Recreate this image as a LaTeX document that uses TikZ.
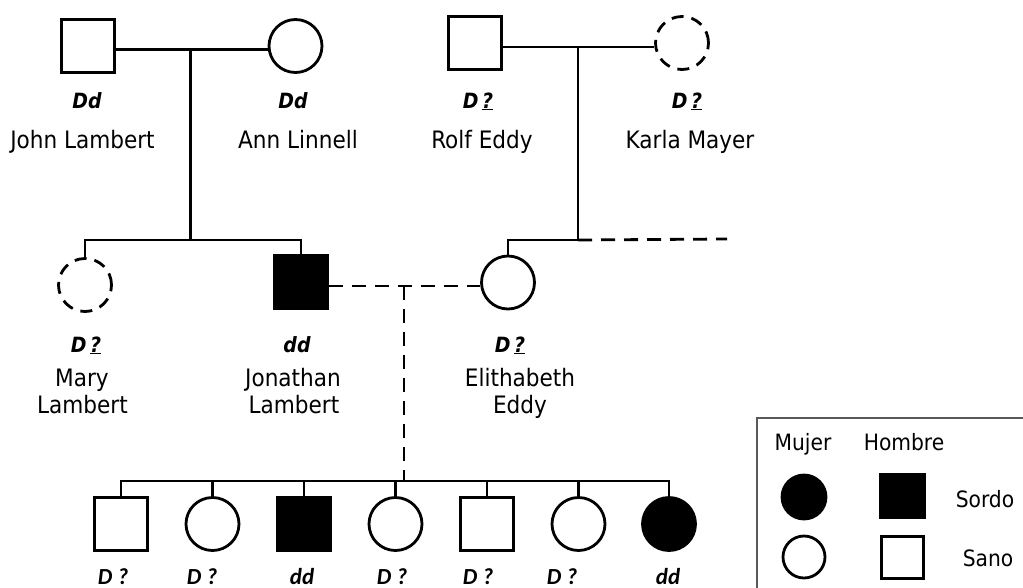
\documentclass[tikz,border=0pt]{standalone}
\usepackage{fontspec}
\IfFontExistsTF{DejaVu Sans Condensed}
  {\setmainfont{DejaVu Sans Condensed}}
  {\setmainfont[FakeStretch=0.9]{DejaVu Sans}}
\newfontfamily\calib{Carlito}
\begin{document}
\begin{tikzpicture}[x=1pt,y=-1pt,line width=2.8pt,
  male/.style={draw,rectangle,minimum size=53pt,inner sep=0pt},
  female/.style={draw,circle,minimum size=53pt,inner sep=0pt},
  aff/.style={fill=black},
  unk/.style={dash pattern=on 12pt off 8pt},
  dashrel/.style={dash pattern=on 14pt off 9pt},
  pname/.style={font=\fontsize{24}{27}\selectfont,anchor=base,inner sep=0pt},
  geno/.style={font=\fontsize{21}{24}\selectfont\bfseries\itshape,anchor=base,inner sep=0pt},
  genob/.style={font=\calib\fontsize{23}{26}\selectfont\bfseries\itshape,anchor=base,inner sep=0pt},
  legtext/.style={font=\fontsize{22.5}{26}\selectfont,anchor=base,inner sep=0pt},
  legbox/.style={draw=black!65,line width=1.3pt}]
\useasboundingbox (0,0) rectangle (1023,587);
% generation I
\node[male] (john) at (88,46) {};
\node[female] (ann) at (295.5,46) {};
\node[male] (rolf) at (475,43) {};
\node[female,unk] (karla) at (682,43) {};
% generation II
\node[female,unk] (mary) at (85,285) {};
\node[male,aff] (jon) at (301,282) {};
\node[female] (eli) at (508,282.5) {};
% generation III
\node[male] (c1) at (121,524) {};
\node[female] (c2) at (212.5,524) {};
\node[male,aff] (c3) at (304,524) {};
\node[female] (c4) at (395.5,524) {};
\node[male] (c5) at (487,524) {};
\node[female] (c6) at (578.5,524) {};
\node[female,aff] (c7) at (669,524) {};
% junction points
\coordinate (m1) at (190.7,49.5);
\coordinate (s1) at (190.7,240);
\coordinate (m2) at (578,47);
\coordinate (s2) at (578,240);
\coordinate (sx) at (727,239);
\coordinate (m3) at (404,286);
\coordinate (s3) at (404,481);
% couples
\draw (john.east |- m1) -- (ann.west |- m1);
\draw (m1) -- (s1);
\draw (rolf.east |- m2) -- (karla.west |- m2);
\draw (m2) -- (s2);
\draw[dashrel] (jon.east |- m3) -- (eli.west |- m3);
\draw[dashrel] (m3) -- (s3);
% sibship lines
\draw (mary.north) -- (mary.north |- s1) -- (jon.north |- s1) -- (jon.north);
\draw (eli.north) -- (eli.north |- s2) -- (s2);
\draw[dashrel] (s2) -- (sx);
\draw (c1.north) -- (c1.north |- s3) -- (c7.north |- s3) -- (c7.north);
\foreach \c in {c2,c3,c4,c5,c6} \draw (\c.north) -- (\c.north |- s3);
% labels generation I
\node[geno] (gjohn) at (87,108) {Dd};
\node[pname] (njohn) at (82.5,148) {John Lambert};
\node[geno] (gann) at (293,108) {Dd};
\node[pname] (nann) at (298,148) {Ann Linnell};
\node[geno] (grolf) at (478,108) {D\,\underline{?}};
\node[pname] (nrolf) at (482,148) {Rolf Eddy};
\node[geno] (gkarla) at (687,108) {D\,\underline{?}};
\node[pname] (nkarla) at (690,148) {Karla Mayer};
% labels generation II
\node[geno] (gmary) at (86,352) {D\,\underline{?}};
\node[pname] (nmary1) at (82,386) {Mary};
\node[pname] (nmary2) at (82.5,413) {Lambert};
\node[geno] (gjon) at (297,352) {dd};
\node[pname] (njon1) at (293,386) {Jonathan};
\node[pname] (njon2) at (294,413) {Lambert};
\node[geno] (geli) at (510,352) {D\,\underline{?}};
\node[pname] (neli1) at (520,386) {Elithabeth};
\node[pname] (neli2) at (520,413) {Eddy};
% labels generation III
\node[genob] (g1) at (113,584) {D ?};
\node[genob] (g2) at (202,584) {D ?};
\node[genob] (g3) at (302,584) {dd};
\node[genob] (g4) at (392,584) {D ?};
\node[genob] (g5) at (478,584) {D ?};
\node[genob] (g6) at (562,584) {D ?};
\node[genob] (g7) at (668,584) {dd};
% legend
\draw[legbox] (757,418) rectangle (1040,600);
\node[legtext] (lmujer) at (803,450) {Mujer};
\node[legtext] (lhombre) at (904,450) {Hombre};
\node[female,aff,minimum size=44pt] (lfa) at (804,497) {};
\node[male,aff,minimum size=44pt] (lma) at (902.5,496) {};
\node[legtext] (lsordo) at (985,507) {Sordo};
\node[female,minimum size=42pt] (lfs) at (804,557) {};
\node[male,minimum size=42pt] (lms) at (902.5,557.5) {};
\node[legtext] (lsano) at (988,566) {Sano};
\end{tikzpicture}
\end{document}
